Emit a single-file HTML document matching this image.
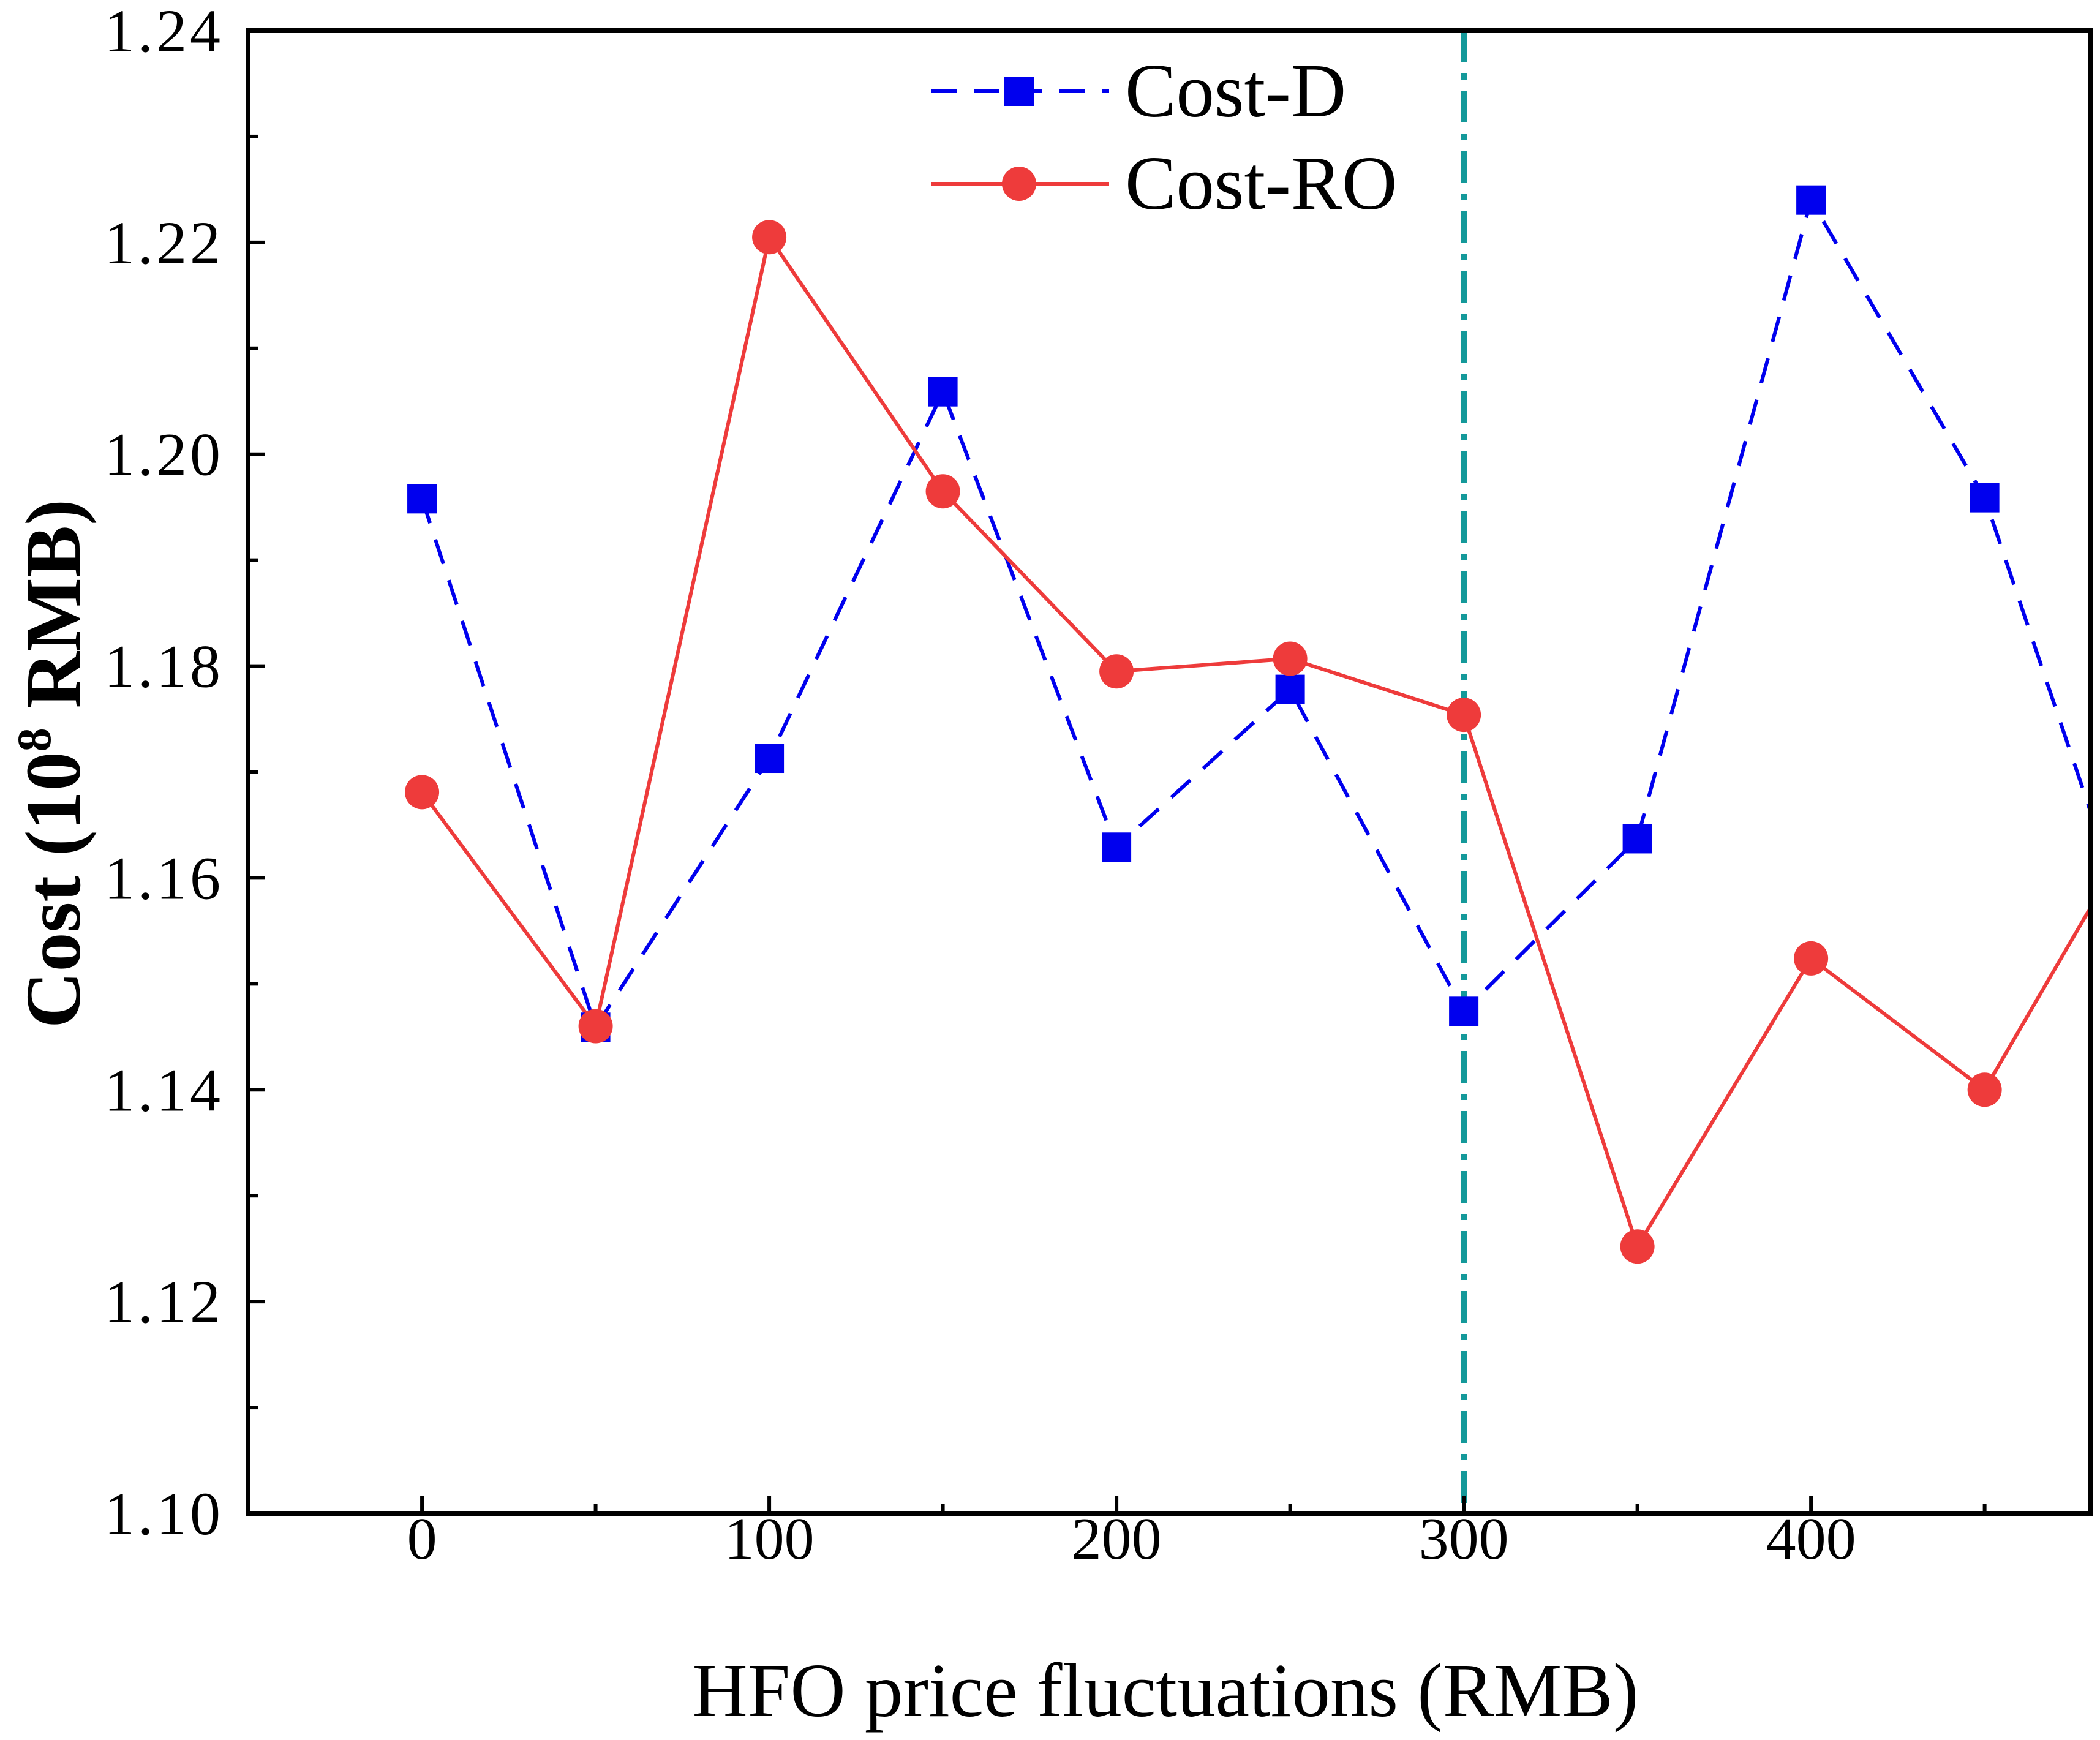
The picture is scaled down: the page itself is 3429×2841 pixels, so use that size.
<!DOCTYPE html>
<html><head><meta charset="utf-8"><style>
html,body{margin:0;padding:0;background:#fff;}
svg{display:block;}
text{font-family:"Liberation Serif",serif;fill:#000;}
</style></head><body>
<svg id="chart" width="3429" height="2841" viewBox="0 0 3429 2841" xmlns="http://www.w3.org/2000/svg">
<defs><clipPath id="plotclip"><rect x="405" y="50" width="3008" height="2421"/></clipPath></defs>
<g id="series" clip-path="url(#plotclip)"></g>
<g id="axes"></g>
<g id="legend"></g>
</svg>
<script>
const categories = [0, 50, 100, 150, 200, 250, 300, 350, 400, 450, 500];
const costD = [1.1958, 1.1459, 1.1713, 1.2059, 1.1629, 1.1778, 1.1474, 1.1637, 1.2240, 1.1959, 1.1473];
const costRO = [1.1681, 1.1460, 1.2205, 1.1965, 1.1795, 1.1807, 1.1754, 1.1252, 1.1524, 1.1400, 1.1682];
const yTicks = ["1.10","1.12","1.14","1.16","1.18","1.20","1.22","1.24"];
const xTicks = ["0","100","200","300","400"];
const markerLineX = 300;

const NS = "http://www.w3.org/2000/svg";
const L = 405, R = 3413, T = 50, B = 2471;
const xMin = -50.1, xMax = 480.4, yMin = 1.10, yMax = 1.24;
function sx(v){ return L + (v - xMin) / (xMax - xMin) * (R - L); }
function sy(v){ return B - (v - yMin) / (yMax - yMin) * (B - T); }
function mk(tag, attrs, parent){ const e = document.createElementNS(NS, tag); for (const k in attrs) e.setAttribute(k, attrs[k]); parent.appendChild(e); return e; }

const series = document.getElementById('series');
const axes = document.getElementById('axes');
const legend = document.getElementById('legend');

const vl = mk('line', {x1: sx(markerLineX), x2: sx(markerLineX), y1: T, y2: B, stroke: '#14999a', 'stroke-width': 10, 'stroke-dasharray': '52 18 10 18'}, series);



const pd = mk('polyline', {points: categories.map((c,i)=>sx(c)+','+sy(costD[i])).join(' '), fill: 'none', stroke: '#0000ee', 'stroke-width': 6, 'stroke-dasharray': '42 28'}, series);


const pr = mk('polyline', {points: categories.map((c,i)=>sx(c)+','+sy(costRO[i])).join(' '), fill: 'none', stroke: '#ee3b3b', 'stroke-width': 6}, series);



categories.forEach((c,i)=>{
  const s = mk('rect', {x: sx(c)-24, y: sy(costD[i])-24, width: 48, height: 48, fill: '#0000ee'}, series);
  
  
});
categories.forEach((c,i)=>{
  const p = mk('circle', {cx: sx(c), cy: sy(costRO[i]), r: 28, fill: '#ee3b3b'}, series);
  
  
});

const fr = mk('rect', {x: L, y: T, width: R-L, height: B-T, fill: 'none', stroke: '#000', 'stroke-width': 8}, axes);



yTicks.forEach(t=>{
  const v = parseFloat(t), y = sy(v);
  mk('line', {x1: L, x2: L+28, y1: y, y2: y, stroke: '#000', 'stroke-width': 6}, axes);
  const tx = mk('text', {x: 365, y: y+34, 'text-anchor': 'end', 'font-size': 100, 'letter-spacing': 5}, axes);
  tx.textContent = t;
  
  
  if (v < yMax - 0.001) { const ym = sy(v + 0.01); mk('line', {x1: L, x2: L+16, y1: ym, y2: ym, stroke: '#000', 'stroke-width': 6}, axes); }
});
xTicks.forEach(t=>{
  const v = parseFloat(t), x = sx(v);
  mk('line', {x1: x, x2: x, y1: B, y2: B-28, stroke: '#000', 'stroke-width': 6}, axes);
  const xm = sx(v + 50);
  mk('line', {x1: xm, x2: xm, y1: B, y2: B-16, stroke: '#000', 'stroke-width': 6}, axes);
  const tx = mk('text', {x: x, y: 2545, 'text-anchor': 'middle', 'font-size': 98}, axes);
  tx.textContent = t;
  
  
});

const xt = mk('text', {x: 1903, y: 2802, 'text-anchor': 'middle', 'font-size': 125}, axes);
xt.textContent = 'HFO price fluctuations (RMB)';


const yt = mk('text', {x: 0, y: 0, 'text-anchor': 'middle', 'font-size': 128, 'font-weight': 'bold', transform: 'translate(130,1247) rotate(-90)'}, axes);
yt.innerHTML = 'Cost (10<tspan dy="-48" font-size="78">8</tspan><tspan dy="48"> RMB)</tspan>';



const l1 = mk('line', {x1: 1520, x2: 1811, y1: 149, y2: 149, stroke: '#0000ee', 'stroke-width': 6, 'stroke-dasharray': '42 28'}, legend);


mk('rect', {x: 1640, y: 125, width: 48, height: 48, fill: '#0000ee'}, legend);
const t1 = mk('text', {x: 1837, y: 190, 'font-size': 125}, legend);
t1.textContent = 'Cost-D';


const l2 = mk('line', {x1: 1520, x2: 1811, y1: 300, y2: 300, stroke: '#ee3b3b', 'stroke-width': 6}, legend);


mk('circle', {cx: 1664, cy: 300, r: 28, fill: '#ee3b3b'}, legend);
const t2 = mk('text', {x: 1837, y: 341, 'font-size': 125}, legend);
t2.textContent = 'Cost-RO';


</script>
</body></html>
